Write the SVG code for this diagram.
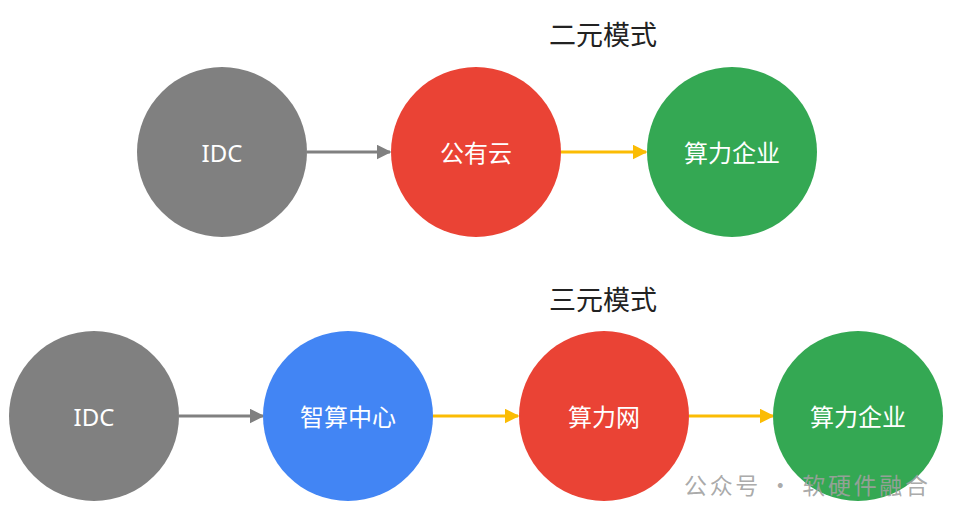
<svg xmlns="http://www.w3.org/2000/svg" width="960" height="520" viewBox="0 0 960 520">
<style>
.t{font-family:"Noto Sans","Noto Sans CJK SC",sans-serif;font-size:24px;fill:#fff;text-anchor:middle;dominant-baseline:central}
.h{font-family:"Noto Sans CJK SC",sans-serif;font-size:27px;fill:#222;text-anchor:middle;dominant-baseline:central}
.g{stroke:#808080;stroke-width:3;marker-end:url(#ag)}
.y{stroke:#FBBC04;stroke-width:3;marker-end:url(#ay)}
</style>
<defs>
<marker id="ag" viewBox="0 0 10 10" refX="9" refY="5" markerWidth="5" markerHeight="5" orient="auto"><path d="M0,0L10,5L0,10z" fill="#808080"/></marker>
<marker id="ay" viewBox="0 0 10 10" refX="9" refY="5" markerWidth="5" markerHeight="5" orient="auto"><path d="M0,0L10,5L0,10z" fill="#FBBC04"/></marker>
</defs>
<rect width="960" height="520" fill="#fff"/>
<text class="h" x="603" y="33">二元模式</text>
<text class="h" x="603" y="298">三元模式</text>
<g id="connectors">
<line class="g" x1="307" y1="152" x2="390" y2="152"/>
<line class="y" x1="561" y1="152" x2="646" y2="152"/>
<line class="g" x1="179" y1="416" x2="263" y2="416"/>
<line class="y" x1="433" y1="416" x2="518" y2="416"/>
<line class="y" x1="689" y1="416" x2="773" y2="416"/>
</g>
<g id="n1"><circle cx="222" cy="152" r="85" fill="#808080"/><text class="t" x="222" y="152">IDC</text></g>
<g id="n2"><circle cx="476" cy="152" r="85" fill="#EA4335"/><text class="t" x="476" y="152">公有云</text></g>
<g id="n3"><circle cx="732" cy="152" r="85" fill="#34A853"/><text class="t" x="732" y="152">算力企业</text></g>
<g id="n4"><circle cx="94" cy="416" r="85" fill="#808080"/><text class="t" x="94" y="416">IDC</text></g>
<g id="n5"><circle cx="348" cy="416" r="85" fill="#4285F4"/><text class="t" x="348" y="416">智算中心</text></g>
<g id="n6"><circle cx="604" cy="416" r="85" fill="#EA4335"/><text class="t" x="604" y="416">算力网</text></g>
<g id="n7"><circle cx="858" cy="416" r="85" fill="#34A853"/><text class="t" x="858" y="416">算力企业</text></g>
<text x="684" y="484" font-family="Noto Sans CJK SC,sans-serif" font-size="23" fill="#a0a0a0" fill-opacity="0.9" dominant-baseline="central" textLength="244">公众号 · 软硬件融合</text>
</svg>
